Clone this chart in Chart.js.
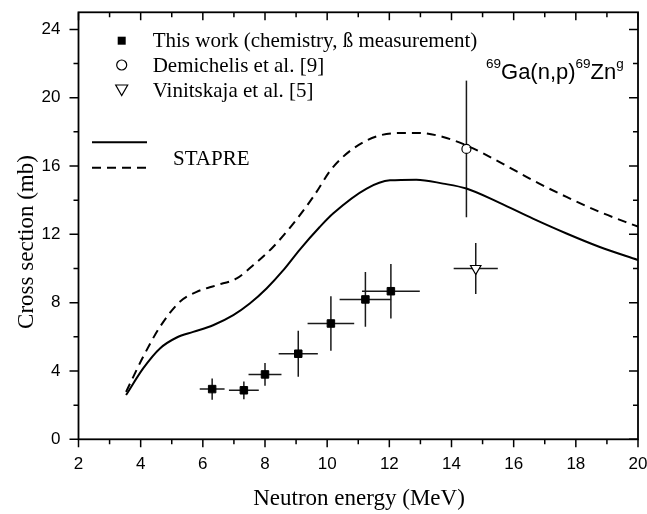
<!DOCTYPE html>
<html>
<head>
<meta charset="utf-8">
<script src="https://cdn.jsdelivr.net/npm/chart.js@4/dist/chart.umd.min.js"></script>
<style>
  html, body { margin: 0; padding: 0; background: #fff; overflow: hidden; }
  #wrap { width: 647px; height: 514px; position: relative; }
</style>
</head>
<body>
<div id="wrap"><canvas id="c"></canvas></div>
<script>
// ---- Data ----
// STAPRE calculation (solid)
const solidE = [3.53, 4.08, 4.62, 5.16, 5.69, 6.33, 6.98, 7.51, 8.05, 8.59, 9.12, 9.76, 10.19, 11.27, 12.02, 12.87, 13.73, 14.48, 15.55, 16.62, 17.70, 18.77, 20.0];
const solidS = [2.59, 4.15, 5.32, 5.96, 6.29, 6.68, 7.27, 7.95, 8.83, 9.90, 11.11, 12.43, 13.22, 14.68, 15.16, 15.20, 14.97, 14.68, 13.84, 12.92, 12.05, 11.26, 10.50];
// STAPRE calculation (dashed)
const dashE = [3.53, 4.08, 4.62, 5.26, 5.80, 6.44, 7.09, 7.62, 8.26, 8.91, 9.55, 10.19, 11.27, 12.34, 12.98, 13.73, 14.48, 15.55, 16.62, 17.70, 18.77, 20.0];
const dashS = [2.78, 4.83, 6.58, 8.05, 8.63, 9.02, 9.42, 10.19, 11.26, 12.63, 14.19, 15.94, 17.50, 17.93, 17.93, 17.70, 17.21, 16.23, 15.16, 14.19, 13.31, 12.45];
// This work
const workE = [6.30, 7.32, 8.00, 9.07, 10.12, 11.23, 12.05];
const workS = [2.94, 2.87, 3.80, 5.01, 6.78, 8.19, 8.67];
const workDE = [0.40, 0.48, 0.53, 0.63, 0.75, 0.83, 0.93];
const workDS = [0.62, 0.52, 0.66, 1.35, 1.60, 1.60, 1.60];
// Demichelis et al. [9]
const demE = [14.48];
const demS = [17.0];
const demDE = [0];
const demDS = [4.0];
// Vinitskaja et al. [5]
const vinE = [14.78];
const vinS = [10.0];
const vinDE = [0.71];
const vinDS = [1.5];
// Axis ticks
const xMin = 2, xMax = 20, xStep = 1, xLabelEvery = 2;
const yMin = 0, yMax = 25, yStep = 2, yLabelEvery = 4;

const pts = (xs, ys) => xs.map((v, i) => ({ x: v, y: ys[i] }));

const serif = "'Liberation Serif', 'Times New Roman', serif";
const sans = "'Liberation Sans', Arial, sans-serif";

const errorBars = {
  id: 'errorBars',
  beforeDatasetsDraw(chart) {
    const { ctx, scales: { x, y } } = chart;
    const groups = [
      [workE, workS, workDE, workDS],
      [demE, demS, demDE, demDS],
      [vinE, vinS, vinDE, vinDS]
    ];
    ctx.save();
    ctx.strokeStyle = '#1a1a1a';
    ctx.lineWidth = 1.5;
    groups.forEach(([es, ss, des, dss]) => {
      es.forEach((e, i) => {
        const cx = x.getPixelForValue(e), cy = y.getPixelForValue(ss[i]);
        ctx.beginPath();
        if (des[i] > 0) {
          ctx.moveTo(x.getPixelForValue(e - des[i]), cy);
          ctx.lineTo(x.getPixelForValue(e + des[i]), cy);
        }
        if (dss[i] > 0) {
          ctx.moveTo(cx, y.getPixelForValue(ss[i] - dss[i]));
          ctx.lineTo(cx, y.getPixelForValue(ss[i] + dss[i]));
        }
        ctx.stroke();
      });
    });
    ctx.restore();
  }
};

const decor = {
  id: 'decor',
  afterDraw(chart) {
    const { ctx, chartArea: a, scales: { x, y } } = chart;
    ctx.save();
    // frame
    ctx.strokeStyle = '#000';
    ctx.lineWidth = 1.8;
    ctx.strokeRect(a.left, a.top, a.right - a.left, a.bottom - a.top);
    // ticks
    ctx.lineWidth = 1.5;
    ctx.beginPath();
    x.ticks.forEach(t => {
      const px = x.getPixelForValue(t.value);
      const len = (Math.round(t.value) % xLabelEvery === 0) ? 8 : 5;
      ctx.moveTo(px, a.bottom); ctx.lineTo(px, a.bottom + len);
      ctx.moveTo(px, a.top); ctx.lineTo(px, a.top + len);
    });
    y.ticks.forEach(t => {
      const py = y.getPixelForValue(t.value);
      const len = (Math.round(t.value) % yLabelEvery === 0) ? 9 : 5;
      ctx.moveTo(a.left - len, py); ctx.lineTo(a.left, py);
      ctx.moveTo(a.right - len, py); ctx.lineTo(a.right, py);
    });
    ctx.stroke();

    // axis titles
    ctx.fillStyle = '#000';
    ctx.textAlign = 'center';
    ctx.textBaseline = 'middle';
    ctx.font = '23px ' + serif;
    ctx.fillText('Neutron energy (MeV)', 359, 499);
    ctx.save();
    ctx.translate(27, 242);
    ctx.rotate(-Math.PI / 2);
    ctx.fillText('Cross section (mb)', 0, 0);
    ctx.restore();

    // legend
    const mx = 121.7, tx = 152.7;
    const rows = [40.7, 65, 90];
    ctx.font = '21px ' + serif;
    ctx.textAlign = 'left';
    ctx.textBaseline = 'middle';
    ctx.fillText('This work (chemistry, \u00DF measurement)', tx, rows[0] + 1);
    ctx.fillText('Demichelis et al. [9]', tx, rows[1] + 1);
    ctx.fillText('Vinitskaja et al. [5]', tx, rows[2] + 1);
    // markers
    ctx.lineWidth = 1.2;
    ctx.fillStyle = '#000';
    ctx.fillRect(mx - 4, rows[0] - 4, 8, 8);
    ctx.beginPath();
    ctx.arc(mx, rows[1], 5, 0, Math.PI * 2);
    ctx.fillStyle = '#fff'; ctx.fill(); ctx.stroke();
    ctx.beginPath();
    ctx.moveTo(mx - 6, rows[2] - 5);
    ctx.lineTo(mx + 6, rows[2] - 5);
    ctx.lineTo(mx, rows[2] + 5.5);
    ctx.closePath();
    ctx.fill(); ctx.stroke();
    // STAPRE lines
    ctx.lineWidth = 2;
    ctx.beginPath();
    ctx.moveTo(92, 142.3); ctx.lineTo(147, 142.3);
    ctx.stroke();
    ctx.setLineDash([9, 6]);
    ctx.beginPath();
    ctx.moveTo(92, 167.7); ctx.lineTo(147, 167.7);
    ctx.stroke();
    ctx.setLineDash([]);
    ctx.fillStyle = '#000';
    ctx.fillText('STAPRE', 173, 159);

    // reaction annotation
    ctx.textBaseline = 'alphabetic';
    let cx = 486;
    const base = 79, supBase = 67.5;
    const seg = (txt, size, b) => {
      ctx.font = size + 'px ' + sans;
      ctx.fillText(txt, cx, b);
      cx += ctx.measureText(txt).width;
    };
    seg('69', 13.5, supBase);
    seg('Ga(n,p)', 22, base);
    seg('69', 13.5, supBase);
    seg('Zn', 22, base);
    seg('g', 13.5, supBase);
    ctx.restore();
  }
};

new Chart(document.getElementById('c'), {
  type: 'scatter',
  data: {
    datasets: [
      {
        type: 'line', label: 'STAPRE', data: pts(solidE, solidS),
        borderColor: '#000', borderWidth: 2, pointRadius: 0,
        cubicInterpolationMode: 'monotone', fill: false
      },
      {
        type: 'line', label: 'STAPRE 2', data: pts(dashE, dashS),
        borderColor: '#000', borderWidth: 2, borderDash: [9, 6], pointRadius: 0,
        cubicInterpolationMode: 'monotone', fill: false
      },
      {
        label: 'This work (chemistry, \u00DF measurement)', data: pts(workE, workS),
        pointStyle: 'rect', pointRadius: 5.3, backgroundColor: '#000', borderColor: '#000', borderWidth: 1
      },
      {
        label: 'Demichelis et al. [9]', data: pts(demE, demS),
        pointStyle: 'circle', pointRadius: 4.5, backgroundColor: '#fff', borderColor: '#000', borderWidth: 1.2
      },
      {
        label: 'Vinitskaja et al. [5]', data: pts(vinE, vinS),
        pointStyle: 'triangle', rotation: 180, pointRadius: 6, backgroundColor: '#fff', borderColor: '#000', borderWidth: 1.2
      }
    ]
  },
  options: {
    responsive: true,
    maintainAspectRatio: false,
    animation: false,
    devicePixelRatio: 1,
    layout: { padding: { top: 12.3, right: 9, bottom: 0, left: 0 } },
    plugins: { legend: { display: false }, tooltip: { enabled: false } },
    scales: {
      x: {
        type: 'linear', min: xMin, max: xMax,
        border: { display: false },
        grid: { drawOnChartArea: false, drawTicks: true, tickLength: 8, color: 'rgba(0,0,0,0)' },
        ticks: {
          stepSize: xStep, autoSkip: false, maxRotation: 0, includeBounds: false,
          padding: 7, color: '#000', font: { family: sans, size: 17 },
          callback: v => (Math.round(v) % xLabelEvery === 0 ? String(v) : '')
        },
        afterFit(s) { s.height = 74.7; s.paddingLeft = 0; s.paddingRight = 0; }
      },
      y: {
        type: 'linear', min: yMin, max: yMax,
        border: { display: false },
        grid: { drawOnChartArea: false, drawTicks: true, tickLength: 8, color: 'rgba(0,0,0,0)' },
        ticks: {
          stepSize: yStep, autoSkip: false, includeBounds: false,
          padding: 10, color: '#000', font: { family: sans, size: 17 },
          callback: v => (Math.round(v) % yLabelEvery === 0 ? String(v) : '')
        },
        afterFit(s) { s.width = 78.5; s.paddingTop = 0; s.paddingBottom = 0; }
      }
    }
  },
  plugins: [errorBars, decor]
});
</script>
</body>
</html>
